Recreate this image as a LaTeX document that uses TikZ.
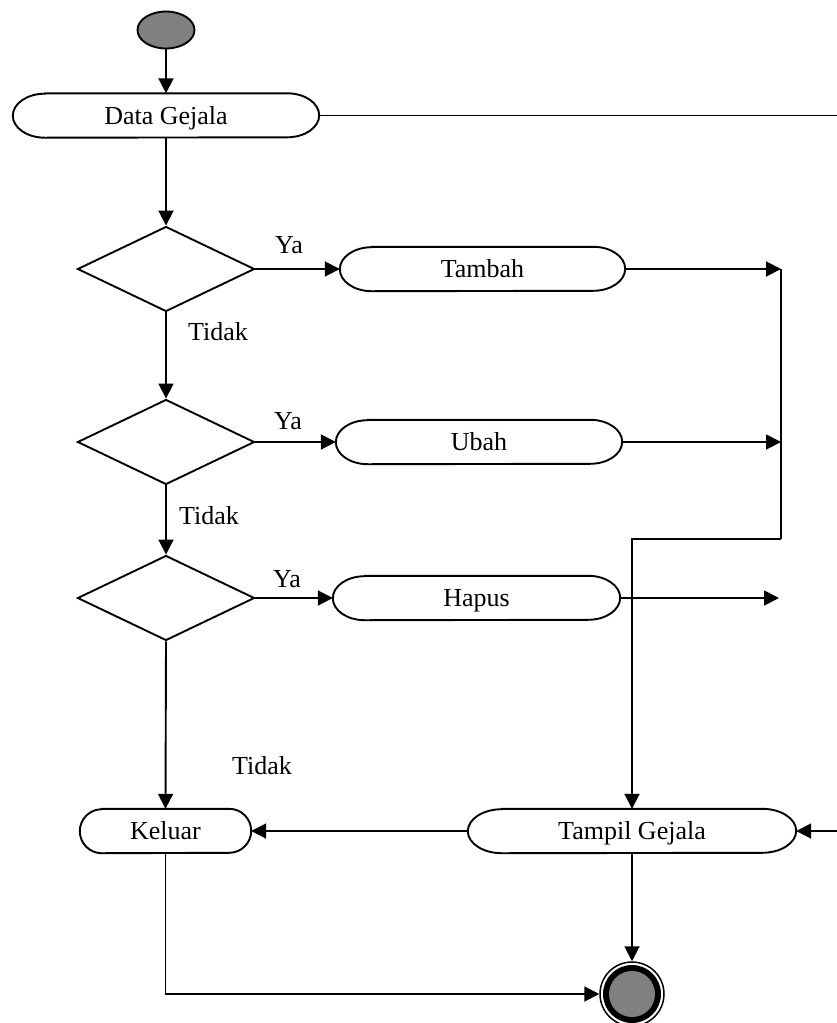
\documentclass[tikz,border=0pt]{standalone}
\usepackage{fontspec}
\setmainfont{Liberation Serif}
\usetikzlibrary{arrows.meta,shapes.geometric}
\definecolor{midgray}{RGB}{128,128,128}
\tikzset{
  ln/.style={line width=1.9pt},
  arr/.style={ln,-{Triangle[length=15pt,width=15pt]}},
  txt/.style={font=\fontsize{26}{30}\selectfont,text height=17.2pt,text depth=0pt},
  stad/.style={txt,draw=none,inner sep=0pt,minimum height=44pt},
  dec/.style={diamond,draw,ln,inner sep=0pt,minimum width=177pt,minimum height=85pt},
  lbl/.style={txt,inner sep=0pt}
}
\newcommand\stadline[2]{%
  \draw[ln] ([xshift=#2pt]#1.north west) -- ([xshift=-#2pt]#1.north east)
    arc[start angle=90,end angle=-90,x radius=#2pt,y radius=22pt]
    -- ([xshift=#2pt]#1.south west)
    arc[start angle=270,end angle=90,x radius=#2pt,y radius=22pt] -- cycle;}
\begin{document}
\begin{tikzpicture}[x=1pt,y=1pt]
\useasboundingbox (0,0) rectangle (837,-1023);
% start
\node[ellipse,draw,ln,fill=midgray,minimum width=57pt,minimum height=37pt,inner sep=0pt] (start) at (166,-30) {};
% actions
\node[stad,minimum width=306pt] (dg) at (166,-115.5) {Data Gejala};
\node[stad,minimum width=285pt] (tam) at (482.5,-269) {Tambah};
\node[stad,minimum width=286pt] (ubah) at (479,-442) {Ubah};
\node[stad,minimum width=287pt] (hap) at (476.5,-598) {Hapus};
\node[stad,minimum width=171pt] (kel) at (165.5,-831) {Keluar};
\node[stad,minimum width=328pt] (tg) at (632,-831) {Tampil Gejala};
\stadline{dg}{32}
\stadline{tam}{32}
\stadline{ubah}{32}
\stadline{hap}{32}
\stadline{kel}{22}
\stadline{tg}{34}
% decisions
\node[dec] (d1) at (166,-269) {};
\node[dec] (d2) at (166,-442) {};
\node[dec] (d3) at (166,-598) {};
% end node
\node[circle,draw,line width=1.5pt,minimum size=64pt,inner sep=0pt] (endn) at (632,-994) {};
\fill[black] (endn.center) circle[radius=29pt];
\fill[midgray] (endn.center) circle[radius=23pt];
% coordinates
\coordinate (rA) at (837,-115.5);
\coordinate (rB) at (837,-831);
\coordinate (j1) at (781,-269);
\coordinate (j2) at (781,-442);
\coordinate (j3) at (781,-539);
\coordinate (j4) at (632,-539);
\coordinate (j5) at (779,-598);
% labels
\node[lbl] (ya1) at (289,-245) {Ya};
\node[lbl] (ya2) at (288,-421) {Ya};
\node[lbl] (ya3) at (287,-579) {Ya};
\node[lbl] (td1) at (218,-332) {Tidak};
\node[lbl] (td2) at (209,-516) {Tidak};
\node[lbl] (td3) at (262,-766) {Tidak};
% connectors
\draw[arr] (start) -- (dg);
\draw[ln] (dg.east) -- (rA);
\draw[arr] (dg) -- (d1);
\draw[arr] (d1.east) -- (tam.west);
\draw[arr] (d1.south) -- (d2.north);
\draw[arr] (d2.east) -- (ubah.west);
\draw[arr] (d2.south) -- (d3.north);
\draw[arr] (d3.east) -- (hap.west);
\draw[arr] (d3.south) -- (kel.north);
\draw[arr] (tam.east) -- (j1);
\draw[arr] (ubah.east) -- (j2);
\draw[arr] (hap.east) -- (j5);
\draw[ln] (j1) -- (j3);
\draw[arr] (j3) -- (j4) -- (tg.north);
\draw[arr] (tg.west) -- (kel.east);
\draw[arr] (rB) -- (tg.east);
\draw[arr] (tg.south) -- (endn.north);
\draw[arr] (kel.south) |- (endn.west);
\end{tikzpicture}
\end{document}
